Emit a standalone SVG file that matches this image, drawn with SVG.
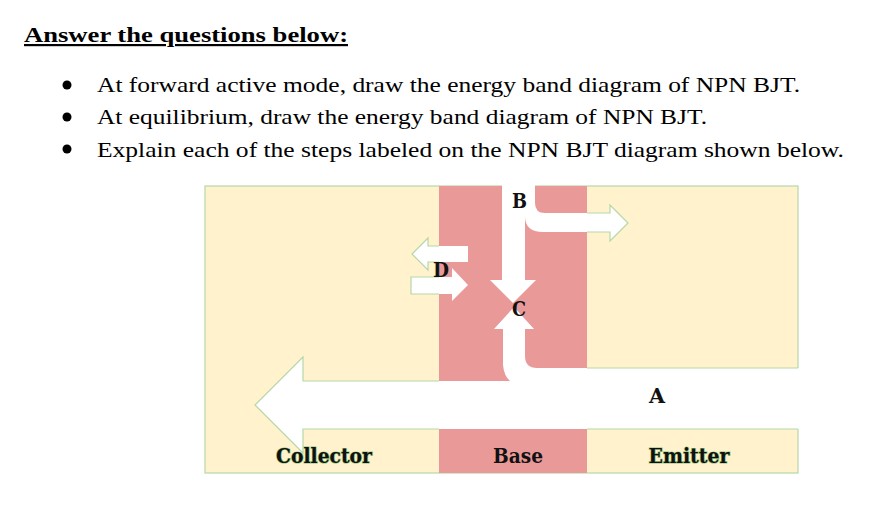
<svg xmlns="http://www.w3.org/2000/svg" width="882" height="518" viewBox="0 0 882 518">
<style>
.q{font-family:"Liberation Serif","Times New Roman",serif;font-size:22px;fill:#000}
.lbl{font-family:"DejaVu Serif Condensed","DejaVu Serif",serif;font-stretch:condensed;font-weight:bold;font-size:20px;fill:#111;text-anchor:middle}
.glbl{stroke:#8fc47a;stroke-width:1.2;paint-order:stroke}
.wf{fill:#fff;stroke:none}
.ws{fill:none;stroke:#b6d7a8;stroke-width:1.2;stroke-linejoin:miter}
</style>
<defs>
<clipPath id="yel">
<rect x="200" y="180" width="239" height="300"/>
<rect x="587" y="180" width="220" height="300"/>
</clipPath>
</defs>
<rect width="882" height="518" fill="#fff"/>
<g id="questions">
<text class="q" x="24" y="42" font-weight="bold" text-decoration="underline" textLength="324" lengthAdjust="spacingAndGlyphs">Answer the questions below:</text>
<circle cx="67" cy="85" r="4.5" fill="#000"/>
<circle cx="67" cy="117" r="4.5" fill="#000"/>
<circle cx="67" cy="149" r="4.5" fill="#000"/>
<text class="q" x="97" y="92" textLength="703" lengthAdjust="spacingAndGlyphs">At forward active mode, draw the energy band diagram of NPN BJT.</text>
<text class="q" x="97" y="124" textLength="610" lengthAdjust="spacingAndGlyphs">At equilibrium, draw the energy band diagram of NPN BJT.</text>
<text class="q" x="97" y="157" textLength="747" lengthAdjust="spacingAndGlyphs">Explain each of the steps labeled on the NPN BJT diagram shown below.</text>
</g>
<g id="panel">
<rect x="205" y="186" width="593" height="287" fill="#fff2cc" stroke="#b6d7a8" stroke-width="1.2"/>
</g>
<g id="base">
<rect x="439" y="186" width="148" height="287" fill="#ea9999"/>
</g>
<g id="connectors">
<g id="arrow-A">
<path class="wf" d="M 799 368 L 537 368 Q 525 368 525 356 L 525 329 L 534 329 L 514 307 L 494 329 L 503 329 L 503 365 Q 504 376 510 381 L 303 381 L 303 357 L 255 405 L 303 453 L 303 429 L 799 429 Z"/>
<path class="ws" clip-path="url(#yel)" d="M 798 368 L 537 368 M 510 381 L 303 381 L 303 357 L 255 405 L 303 453 L 303 429 L 798 429"/>
</g>
<g id="arrow-B">
<path class="wf" d="M 502 185 L 535 185 L 535 203 Q 535 213 545 213 L 610 213 L 610 205 L 628 223 L 610 241 L 610 232 L 543 232 Q 525 232 525 216 L 525 280 L 536 280 L 513 303 L 490 280 L 502 280 Z"/>
<path class="ws" clip-path="url(#yel)" d="M 545 213 L 610 213 L 610 205 L 628 223 L 610 241 L 610 232 L 543 232"/>
</g>
<g id="arrows-D">
<path class="wf" d="M 468 246 L 428 246 L 428 238 L 412 254 L 428 270 L 428 262 L 468 262 Z"/>
<path class="ws" clip-path="url(#yel)" d="M 468 246 L 428 246 L 428 238 L 412 254 L 428 270 L 428 262 L 468 262"/>
<path class="wf" d="M 411 277 L 452 277 L 452 268 L 468 285 L 452 301 L 452 294 L 411 294 Z"/>
<path class="ws" clip-path="url(#yel)" d="M 460 277 L 411 277 L 411 294 L 460 294"/>
</g>
</g>
<g id="labels">
<text class="lbl" x="519.5" y="208" textLength="15" lengthAdjust="spacingAndGlyphs">B</text>
<text class="lbl" x="519" y="316" textLength="14" lengthAdjust="spacingAndGlyphs">C</text>
<text class="lbl" x="441" y="277" textLength="16" lengthAdjust="spacingAndGlyphs">D</text>
<text class="lbl" x="657" y="403" textLength="16" lengthAdjust="spacingAndGlyphs">A</text>
<text class="lbl glbl" x="324" y="463" textLength="96" lengthAdjust="spacingAndGlyphs">Collector</text>
<text class="lbl" x="518" y="463" textLength="50" lengthAdjust="spacingAndGlyphs">Base</text>
<text class="lbl glbl" x="689" y="463" textLength="81" lengthAdjust="spacingAndGlyphs">Emitter</text>
</g>
</svg>
